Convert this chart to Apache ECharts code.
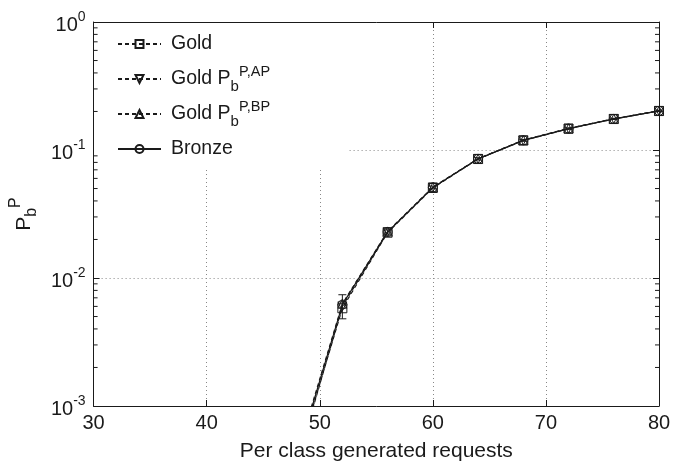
<!DOCTYPE html>
<html><head><meta charset="utf-8">
<script src="https://cdn.jsdelivr.net/npm/echarts@6/dist/echarts.min.js"></script>
<style>html,body{margin:0;padding:0;background:#fff}#c{width:688px;height:467px}</style>
</head><body><div id="c"></div>
<script>
// ---- data ----
const xValues   = [48, 52, 56, 60, 64, 68, 72, 76, 80];
const gold      = [0.00038, 0.0058, 0.0226, 0.0505, 0.0850, 0.1185, 0.1465, 0.1745, 0.2015];
const goldAP    = [0.00036, 0.0060, 0.0228, 0.0510, 0.0852, 0.1190, 0.1470, 0.1750, 0.2020];
const goldBP    = [0.00042, 0.0063, 0.0231, 0.0512, 0.0855, 0.1195, 0.1475, 0.1755, 0.2025];
const bronze    = [0.00040, 0.0062, 0.0229, 0.0510, 0.0853, 0.1190, 0.1470, 0.1750, 0.2020];
const bronzeLow = [0.00030, 0.0048, 0.0220, 0.0497, 0.0835, 0.1170, 0.1450, 0.1730, 0.1995];
const bronzeHigh= [0.00050, 0.0074, 0.0238, 0.0523, 0.0871, 0.1210, 0.1490, 0.1770, 0.2045];
const xTicks = [30, 40, 50, 60, 70, 80];
const yMin = 0.001, yMax = 1;
const minorTickValues = [0.002,0.003,0.004,0.005,0.006,0.007,0.008,0.009,
                         0.02,0.03,0.04,0.05,0.06,0.07,0.08,0.09,
                         0.2,0.3,0.4,0.5,0.6,0.7,0.8,0.9];
const seriesNames = ['Gold', 'Gold PbP,AP', 'Gold PbP,BP', 'Bronze'];
const legendLabels = {
  'Gold': 'Gold',
  'Gold PbP,AP': 'Gold P{sub|b}{sup|P,AP}',
  'Gold PbP,BP': 'Gold P{sub|b}{sup|P,BP}',
  'Bronze': 'Bronze'
};

const FONT = '"Liberation Sans", Arial, Helvetica, sans-serif';
const INK = '#1a1a1a';
const FS = 20;
const pair = (ys) => xValues.map((x, i) => [x, ys[i]]);

const chart = echarts.init(document.getElementById('c'));
const markerStyle = {color: 'rgba(255,255,255,0)', borderColor: INK, borderWidth: 1};

function lineSeries(name, ys, symbol, rotate, dashed) {
  return {
    name, type: 'line', data: pair(ys), symbol, symbolSize: 9, symbolRotate: rotate,
    showSymbol: true, clip: true, z: 3,
    lineStyle: {color: INK, width: 1.2, type: dashed ? [4, 3] : 'solid'},
    itemStyle: markerStyle,
    emphasis: {disabled: true}, animation: false
  };
}

const option = {
  animation: false,
  backgroundColor: '#fff',
  grid: {left: 93, right: 29, top: 22, bottom: 52, show: false},
  xAxis: [{
    type: 'value', min: 30, max: 80, interval: 10, position: 'bottom',
    name: 'Per class generated requests', nameLocation: 'middle', nameGap: 35,
    nameTextStyle: {fontFamily: FONT, fontSize: 21, color: INK},
    axisLine: {show: true, onZero: false, lineStyle: {color: INK, width: 1}},
    axisTick: {show: true, inside: true, length: 6, lineStyle: {color: INK}},
    axisLabel: {fontFamily: FONT, fontSize: FS, color: INK, margin: 7},
    splitLine: {show: true, lineStyle: {color: '#888', type: [1, 3], width: 1}}
  }, {
    type: 'value', min: 30, max: 80, interval: 10, position: 'top',
    axisLine: {show: true, onZero: false, lineStyle: {color: INK, width: 1}},
    axisTick: {show: true, inside: true, length: 6, lineStyle: {color: INK}},
    axisLabel: {show: false}, splitLine: {show: false}
  }],
  yAxis: [{
    type: 'log', logBase: 10, min: yMin, max: yMax, position: 'left',
    name: '{m|P}{sub|b}{sup|P}', nameLocation: 'middle', nameGap: 49, nameRotate: 90,
    nameTextStyle: {
      fontFamily: FONT, color: INK, lineHeight: 32,
      rich: {
        m: {fontFamily: FONT, fontSize: 21, color: INK, lineHeight: 32},
        sub: {fontFamily: FONT, fontSize: 16, color: INK, lineHeight: 22, verticalAlign: 'bottom'},
        sup: {fontFamily: FONT, fontSize: 16, color: INK, lineHeight: 15, verticalAlign: 'top'}
      }
    },
    axisLine: {show: true, onZero: false, lineStyle: {color: INK, width: 1}},
    axisTick: {show: true, inside: true, length: 6, lineStyle: {color: INK}},
    axisLabel: {
      margin: 8, padding: [7, 0, 0, 0],
      formatter: (v) => '{b|10}{s|' + Math.round(Math.log10(v)) + '}',
      rich: {
        b: {fontFamily: FONT, fontSize: FS, color: INK, lineHeight: 30},
        s: {fontFamily: FONT, fontSize: 14, color: INK, lineHeight: 16, verticalAlign: 'top'}
      }
    },
    splitLine: {show: true, lineStyle: {color: '#888', type: [1, 3], width: 1}}
  }, {
    type: 'log', logBase: 10, min: yMin, max: yMax, position: 'right',
    axisLine: {show: true, onZero: false, lineStyle: {color: INK, width: 1}},
    axisTick: {show: true, inside: true, length: 6, lineStyle: {color: INK}},
    axisLabel: {show: false}, splitLine: {show: false}
  }],
  legend: {
    orient: 'vertical', left: 94, top: 23,
    data: seriesNames,
    backgroundColor: '#fff',
    padding: [6, 78, 3, 23],
    itemGap: 5, itemWidth: 43, itemHeight: 10,
    selectedMode: false,
    formatter: (name) => legendLabels[name],
    textStyle: {
      fontFamily: FONT, fontSize: 19.5, color: INK, lineHeight: 30, padding: [0, 0, 0, 5],
      rich: {
        sub: {fontFamily: FONT, fontSize: 15, color: INK, lineHeight: 20, verticalAlign: 'bottom'},
        sup: {fontFamily: FONT, fontSize: 14.5, color: INK, lineHeight: 14, verticalAlign: 'top'}
      }
    }
  },
  series: [
    lineSeries('Gold', gold, 'rect', 0, true),
    lineSeries('Gold PbP,AP', goldAP, 'triangle', 180, true),
    lineSeries('Gold PbP,BP', goldBP, 'triangle', 0, true),
    lineSeries('Bronze', bronze, 'circle', 0, false),
    {
      name: 'bronzeErr', type: 'custom', z: 3,
      data: xValues.map((x, i) => [x, bronzeLow[i], bronzeHigh[i]]),
      renderItem: (params, api) => {
        const x = api.value(0), lo = api.value(1), hi = api.value(2);
        if (lo < yMin) return null;
        const a = api.coord([x, lo]), b = api.coord([x, hi]);
        const w = 4;
        const st = {stroke: INK, lineWidth: 1};
        return {type: 'group', children: [
          {type: 'line', shape: {x1: a[0], y1: a[1], x2: b[0], y2: b[1]}, style: st},
          {type: 'line', shape: {x1: a[0] - w, y1: a[1], x2: a[0] + w, y2: a[1]}, style: st},
          {type: 'line', shape: {x1: b[0] - w, y1: b[1], x2: b[0] + w, y2: b[1]}, style: st}
        ]};
      }
    },
    {
      name: 'minorTicks', type: 'custom', z: 4, silent: true,
      data: minorTickValues.map(v => [30, v]),
      renderItem: (params, api) => {
        const cs = params.coordSys;
        const y = api.coord([30, api.value(1)])[1];
        const st = {stroke: INK, lineWidth: 1};
        const L = 4;
        return {type: 'group', children: [
          {type: 'line', shape: {x1: cs.x, y1: y, x2: cs.x + L, y2: y}, style: st},
          {type: 'line', shape: {x1: cs.x + cs.width - L, y1: y, x2: cs.x + cs.width, y2: y}, style: st}
        ]};
      }
    }
  ]
};
chart.setOption(option);
</script>
</body></html>
